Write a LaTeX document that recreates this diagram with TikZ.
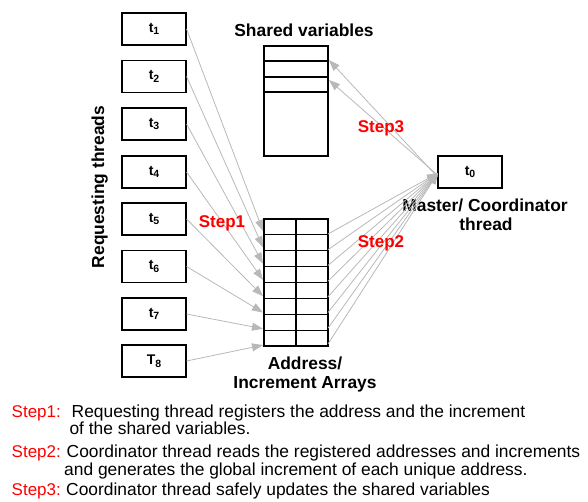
\documentclass[tikz,border=0pt]{standalone}
\usepackage{fontspec}
\setmainfont{Liberation Sans}
\usetikzlibrary{arrows.meta}
\definecolor{linkgray}{RGB}{184,184,184}
\definecolor{stepred}{RGB}{255,0,0}
\tikzset{
  box/.style={draw=black, line width=1.1pt, minimum width=64pt, minimum height=32pt, inner sep=0pt, font=\fontsize{14}{14}\selectfont\bfseries},
  cell/.style={draw=black, line width=1.1pt},
  link/.style={draw=linkgray, line width=0.8pt, -{Triangle[length=11pt,width=8pt,fill=linkgray]}},
  heading/.style={font=\fontsize{17.4}{17.4}\selectfont\bfseries, inner sep=0pt},
  steplabel/.style={font=\fontsize{17}{17}\selectfont\bfseries, text=stepred, inner sep=0pt},
  note/.style={font=\fontsize{17.4}{17.4}\selectfont, inner sep=0pt, anchor=base west},
  notered/.style={note, font=\fontsize{17}{17}\selectfont, text=stepred}
}
% thread name with a lowered index
\newcommand{\thr}[2]{#1\raisebox{-2.5pt}{\fontsize{10.5}{10.5}\selectfont #2}}
\begin{document}
\begin{tikzpicture}[x=1pt,y=-1pt]
\useasboundingbox (0,0) rectangle (588,501);

% requesting threads
\foreach \i/\lab/\yy in {1/t/29,2/t/76.5,3/t/124,4/t/172,5/t/219,6/t/266.5,7/t/314,8/T/361}
  \node[box] (t\i) at (154,\yy) {\thr{\lab}{\i}};
\node[heading, rotate=90, anchor=base] (req) at (104,187) {Requesting threads};

% shared variables table
\node[heading, anchor=base] (shtitle) at (304,36) {Shared variables};
\draw[cell] (264,46) rectangle (328,156);
\foreach \yy in {61,77,92} \draw[cell] (264,\yy) -- (328,\yy);
\coordinate (sv1) at (329,60);
\coordinate (sv2) at (329,80);

% address / increment arrays
\draw[cell] (264,219) rectangle (328,346);
\draw[cell] (296,219) -- (296,346);
\foreach \k in {1,...,7} \draw[cell] (264,{219+15.875*\k}) -- (328,{219+15.875*\k});
\foreach \k in {0,...,7} {
  \coordinate (in\k) at (263,{231+16.3*\k});
  \coordinate (out\k) at (328,{234+15.7*\k});
}
\node[heading, anchor=base] (arrA) at (305,369) {Address/};
\node[heading, anchor=base] (arrB) at (305,388) {Increment Arrays};

% coordinator thread
\node[box] (t0) at (470,172) {\thr{t}{0}};
\coordinate (t0in) at (438,173);
\node[heading, anchor=base] (mastA) at (485,211) {Master/ Coordinator};
\node[heading, anchor=base] (mastB) at (486,230) {thread};

% step 1: threads register into the arrays
\foreach \i [evaluate=\i as \k using int(\i-1)] in {1,...,8}
  \draw[link] (t\i.east) -- (in\k);
% step 2: coordinator reads the arrays
\foreach \k in {0,...,7}
  \draw[link] (out\k) -- (t0in);
% step 3: coordinator updates shared variables
\draw[link] ([yshift=-5pt]t0.west) -- (sv1);
\draw[link] ([yshift=-3pt]t0.west) -- (sv2);

\node[steplabel, anchor=base] (s1) at (222,227) {Step1};
\node[steplabel, anchor=base] (s2) at (381,247) {Step2};
\node[steplabel, anchor=base] (s3) at (381,132) {Step3};

% legend
\node[notered] (l1) at (11.5,417) {Step1:};
\node[note] (l1a) at (71.5,417) {Requesting thread registers the address and the increment};
\node[note] (l1b) at (69.3,434.5) {of the shared variables.};
\node[notered] (l2) at (11.5,457) {Step2:};
\node[note] (l2a) at (66.5,457) {Coordinator thread reads the registered addresses and increments};
\node[note] (l2b) at (64,475) {and generates the global increment of each unique address.};
\node[notered] (l3) at (11.5,495) {Step3:};
\node[note] (l3a) at (66,495) {Coordinator thread safely updates the shared variables};
\end{tikzpicture}
\end{document}
